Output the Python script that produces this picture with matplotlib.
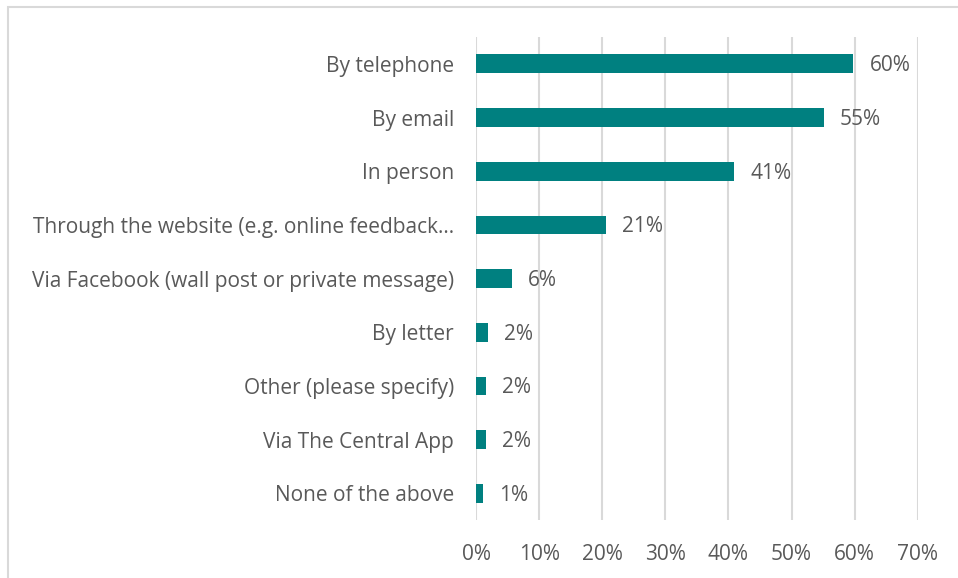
import matplotlib.pyplot as plt
from matplotlib.patches import Rectangle
from matplotlib.ticker import MultipleLocator, PercentFormatter

categories = [
    "By telephone",
    "By email",
    "In person",
    "Through the website (e.g. online feedback\u2026",
    "Via Facebook (wall post or private message)",
    "By letter",
    "Other (please specify)",
    "Via The Central App",
    "None of the above",
]
values = [59.8, 55.1, 40.9, 20.6, 5.7, 1.9, 1.5, 1.5, 1.1]

bar_color = "#008080"
text_color = "#595959"
grid_color = "#d9d9d9"

plt.rcParams["font.family"] = ["Open Sans", "DejaVu Sans"]

fig = plt.figure(figsize=(9.58, 5.78), dpi=100)
ax = fig.add_axes([0.497, 0.100, 0.461, 0.836])

pos = list(range(len(categories)))
ax.barh(pos, values, height=0.35, color=bar_color, zorder=3)

for y, v in zip(pos, values):
    ax.annotate(f"{v:.0f}%", (v, y), xytext=(16, -2), textcoords="offset pixels",
                va="center", ha="left", fontsize=15, color=text_color)

ax.set_xlim(0, 70)
ax.set_ylim(len(categories) - 0.5, -0.5)
ax.xaxis.set_major_locator(MultipleLocator(10))
ax.xaxis.set_major_formatter(PercentFormatter(decimals=0))
ax.set_yticks(pos)
ax.set_yticklabels(categories)

ax.grid(axis="x", color=grid_color, linewidth=1.5, zorder=0)
for s in ax.spines.values():
    s.set_visible(False)
ax.tick_params(axis="both", length=0, labelsize=15, colors=text_color)
ax.tick_params(axis="y", pad=16)
ax.tick_params(axis="x", pad=17)

# outer frame of the chart area
fig.patches.append(Rectangle((8 / 958, -0.1), 1.2, 1 - 7 / 578 + 0.1,
                             transform=fig.transFigure, fill=False,
                             edgecolor=grid_color, linewidth=1.5))

fig.savefig("out.png", dpi=100)
